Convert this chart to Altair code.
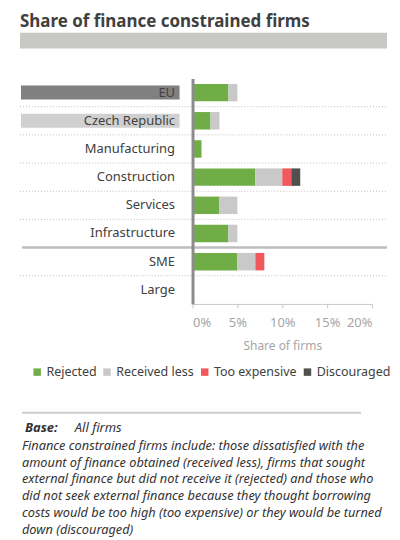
import altair as alt
import pandas as pd

FONT = "Noto Sans"

categories = ["EU", "Czech Republic", "Manufacturing", "Construction",
              "Services", "Infrastructure", "SME", "Large"]
series = ["Rejected", "Received less", "Too expensive", "Discouraged"]
rejected = [4, 2, 1, 7, 3, 4, 5, 0]
received_less = [1, 1, 0, 3, 2, 1, 2, 0]
too_expensive = [0, 0, 0, 1, 0, 0, 1, 0]
discouraged = [0, 0, 0, 1, 0, 0, 0, 0]
colors = ["#70ad47", "#c9c9c9", "#f0585e", "#505050"]

box_categories = ["EU", "Czech Republic"]
box_colors = ["#808080", "#d0d0d0"]

dotted_after = ["Czech Republic", "Manufacturing", "Construction", "Services",
                "Infrastructure", "Large"]
solid_after = ["SME"]

title_text = "Share of finance constrained firms"
base_label = "Base:"
base_value = "All firms"
footnote_lines = [
    "Finance constrained firms include: those dissatisfied with the",
    "amount of finance obtained (received less), firms that sought",
    "external finance but did not receive it (rejected) and those who",
    "did not seek external finance because they thought borrowing",
    "costs would be too high (too expensive) or they would be turned",
    "down (discouraged)",
]

vals = [rejected, received_less, too_expensive, discouraged]
rows = []
for i, c in enumerate(categories):
    for j, s in enumerate(series):
        rows.append({"category": c, "series": s, "value": vals[j][i], "order": j})
df = pd.DataFrame(rows)

yscale = alt.Scale(domain=categories, paddingInner=0, paddingOuter=0)

bars = alt.Chart(df).mark_bar(size=17.5).encode(
    x=alt.X("value:Q", stack="zero",
            scale=alt.Scale(domain=[0, 20], nice=False),
            axis=alt.Axis(values=[0, 5, 10, 15, 20], labelExpr="datum.value + '%'",
                          title="Share of firms", grid=False,
                          domainColor="#c8c8c8", tickColor="#c8c8c8", tickSize=4,
                          labelColor="#a6a6a6", labelFontSize=13, labelFont=FONT,
                          labelPadding=9, titleColor="#a6a6a6", titleFontSize=12,
                          titleFont=FONT, titleFontWeight="normal", titlePadding=11)),
    y=alt.Y("category:N", sort=categories, scale=yscale,
            axis=alt.Axis(title=None, ticks=False, labelPadding=18, domainColor="#8c8c8c",
                          domainWidth=3, zindex=1, labelFontSize=13, labelColor="#404040",
                          labelFont=FONT)),
    color=alt.Color("series:N", sort=series,
                    scale=alt.Scale(domain=series, range=colors),
                    legend=alt.Legend(orient="none", legendX=-162, legendY=288,
                                      direction="horizontal", title=None,
                                      symbolType="square", symbolSize=56,
                                      symbolStrokeWidth=0,
                                      labelFontSize=12.5, labelColor="#404040",
                                      labelFont=FONT, columnPadding=4, labelOffset=3)),
    order=alt.Order("order:Q"),
)

box_df = pd.DataFrame({"category": box_categories, "fill": box_colors})
boxes = alt.Chart(box_df).mark_bar(size=14).encode(
    y=alt.Y("category:N", sort=categories, scale=yscale),
    x=alt.value(-172),
    x2=alt.value(-13),
    color=alt.Color("fill:N", scale=None),
)

dot_df = pd.DataFrame({"category": dotted_after})
dots = alt.Chart(dot_df).mark_rule(color="#bdbdbd", strokeDash=[1, 2], strokeWidth=1).encode(
    y=alt.Y("category:N", sort=categories, scale=yscale, bandPosition=0),
    x=alt.value(-173),
    x2=alt.value(195),
)

solid_df = pd.DataFrame({"category": solid_after})
solid = alt.Chart(solid_df).mark_rule(color="#bdbdbd", strokeWidth=2.5).encode(
    y=alt.Y("category:N", sort=categories, scale=yscale, bandPosition=0),
    x=alt.value(-171),
    x2=alt.value(195),
)

title_df = pd.DataFrame({"t": [title_text]})
title = alt.Chart(title_df).mark_text(align="left", baseline="alphabetic", fontSize=17,
                                      fontWeight="bold", color="#404040", font=FONT).encode(
    text="t:N", x=alt.value(-173), y=alt.value(-52))

band = alt.Chart(title_df).mark_rect(color="#c8c8c4").encode(
    x=alt.value(-173), x2=alt.value(195), y=alt.value(-46), y2=alt.value(-30))

sep = alt.Chart(title_df).mark_rule(color="#cccccc", strokeWidth=2).encode(
    x=alt.value(-171), x2=alt.value(169), y=alt.value(335))

base1 = alt.Chart(title_df).mark_text(align="left", baseline="middle", fontSize=13,
                                      fontWeight="bold", fontStyle="italic",
                                      color="#333333", font=FONT).encode(
    text=alt.value(base_label), x=alt.value(-168), y=alt.value(350))
base2 = alt.Chart(title_df).mark_text(align="left", baseline="middle", fontSize=13,
                                      fontStyle="italic", color="#333333", font=FONT).encode(
    text=alt.value(base_value), x=alt.value(-118), y=alt.value(350))

foot = alt.Chart(title_df).mark_text(align="left", baseline="middle", fontSize=12.8,
                                     fontStyle="italic", color="#333333", font=FONT,
                                     lineHeight=17).encode(
    text=alt.value(footnote_lines), x=alt.value(-171), y=alt.value(368))

chart = alt.layer(band, title, dots, solid, boxes, bars, sep, base1, base2, foot).properties(
    width=180, height=226,
    autosize=alt.AutoSizeParams(type="none"),
    padding={"left": 185, "top": 70, "right": 20, "bottom": 240},
).configure_view(stroke=None)

chart.save("out.html", embed_options={"renderer": "svg", "actions": False})
